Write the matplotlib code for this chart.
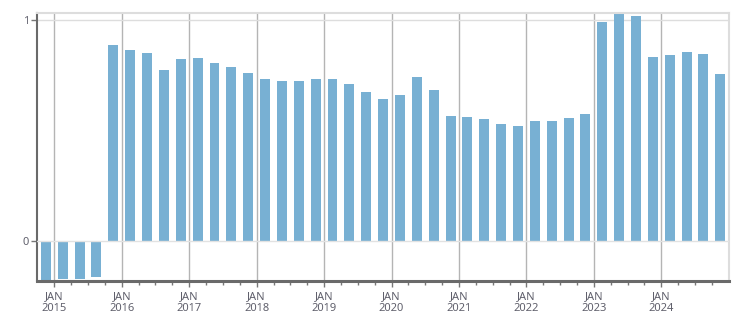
import matplotlib
matplotlib.use("Agg")
import matplotlib.pyplot as plt
from matplotlib.ticker import FixedLocator

# ---- data ----
quarters = ["2014-Q4",
            "2015-Q1", "2015-Q2", "2015-Q3", "2015-Q4",
            "2016-Q1", "2016-Q2", "2016-Q3", "2016-Q4",
            "2017-Q1", "2017-Q2", "2017-Q3", "2017-Q4",
            "2018-Q1", "2018-Q2", "2018-Q3", "2018-Q4",
            "2019-Q1", "2019-Q2", "2019-Q3", "2019-Q4",
            "2020-Q1", "2020-Q2", "2020-Q3", "2020-Q4",
            "2021-Q1", "2021-Q2", "2021-Q3", "2021-Q4",
            "2022-Q1", "2022-Q2", "2022-Q3", "2022-Q4",
            "2023-Q1", "2023-Q2", "2023-Q3", "2023-Q4",
            "2024-Q1", "2024-Q2", "2024-Q3", "2024-Q4"]
values = [-0.177,
          -0.172, -0.172, -0.163, 0.888,
          0.866, 0.852, 0.775, 0.825,
          0.829, 0.807, 0.789, 0.761,
          0.734, 0.725, 0.725, 0.734,
          0.734, 0.711, 0.675, 0.644,
          0.662, 0.743, 0.684, 0.566,
          0.562, 0.553, 0.530, 0.521,
          0.544, 0.544, 0.557, 0.576,
          0.992, 1.029, 1.020, 0.834,
          0.843, 0.856, 0.847, 0.757]
tick_years = list(range(2015, 2025))
tick_labels = [f"JAN\n{y}" for y in tick_years]
y_ticks = [0, 1]
y_tick_labels = ["0", "1"]

BAR = "#78b0d3"
TXT = "#60606c"

def qpos(q):
    y, qq = q.split("-Q")
    return int(y) + (int(qq) - 1) * 0.25 + 0.125

xs = [qpos(q) for q in quarters]

plt.rcParams["font.family"] = ["Noto Sans", "DejaVu Sans"]
fig = plt.figure(figsize=(7.51, 3.13), dpi=100)
ax = fig.add_axes([0.0499, 0.1022, 0.9204, 0.8553])

ax.bar(xs, values, width=0.148, color=BAR, zorder=2, linewidth=0)

ax.set_xlim(2014.75, 2025.0)
ax.set_ylim(-0.181, 1.032)

ax.set_xticks(tick_years)
ax.set_xticklabels(tick_labels, fontsize=8, color=TXT, linespacing=1.1)
ax.xaxis.set_minor_locator(FixedLocator([y + q * 0.25 for y in range(2014, 2025) for q in range(4)
                                         if 2014.75 < y + q * 0.25 < 2025.0 and q != 0]))
ax.set_yticks(y_ticks)
ax.set_yticklabels(y_tick_labels, fontsize=8, color=TXT)

ax.tick_params(axis="x", which="major", length=4, width=1, color="#777777", pad=3)
ax.tick_params(axis="x", which="minor", length=3, width=1, color="#777777")
ax.tick_params(axis="y", which="major", length=4, width=1, color="#777777", pad=2)

for x in tick_years:
    ax.axvline(x, color="#b4b4b4", lw=1, zorder=1)
ax.axhline(1, color="#dddddd", lw=1, zorder=1)
ax.axhline(0, color="#e2e2e2", lw=1, zorder=3)

ax.spines["left"].set_color("#6a6a6a")
ax.spines["left"].set_linewidth(1.5)
ax.spines["bottom"].set_color("#6a6a6a")
ax.spines["bottom"].set_linewidth(2.2)
ax.spines["top"].set_color("#dddddd")
ax.spines["top"].set_linewidth(1.5)
ax.spines["right"].set_color("#dddddd")
ax.spines["right"].set_linewidth(1.5)

fig.savefig("out.png", dpi=100)
